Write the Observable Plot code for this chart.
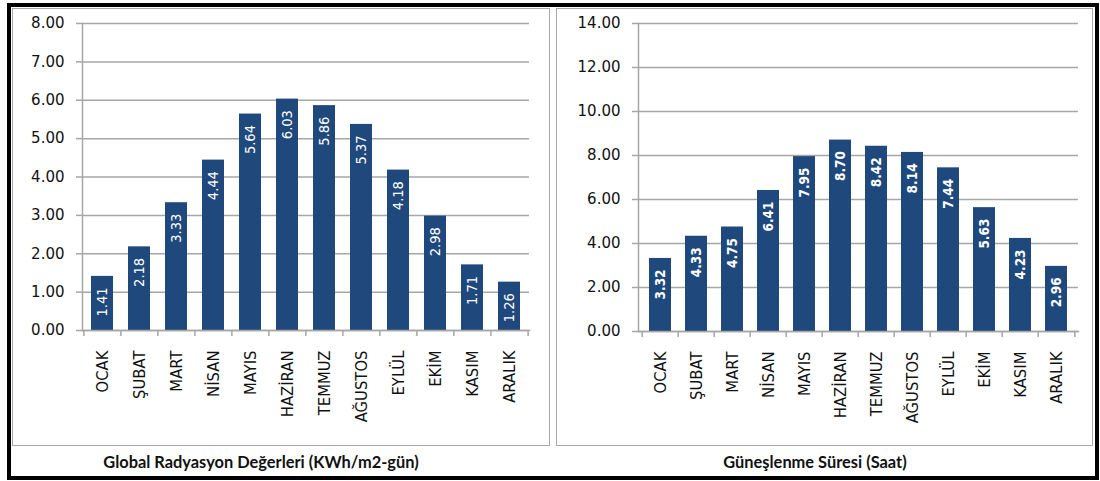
<!DOCTYPE html>
<html>
<head>
<meta charset="utf-8">
<script src="https://cdn.jsdelivr.net/npm/d3@7"></script>
<script src="https://cdn.jsdelivr.net/npm/@observablehq/plot@0.6"></script>
<style>
  html, body { margin: 0; padding: 0; background: #fff; }
  #stage { position: relative; width: 1100px; height: 481px; overflow: hidden; background: #fff; }
  .outer { position: absolute; left: 7px; top: 3px; width: 1092px; height: 477px; box-sizing: border-box; border: 4px solid #000; }
  .box { position: absolute; top: 8px; height: 438px; box-sizing: border-box; border: 1.5px solid #a8a8a8; }
  .chart { position: absolute; top: 8px; }
  .caption { position: absolute; top: 452px; transform: translateX(-50%); white-space: nowrap;
             font-family: Lato, "Open Sans", sans-serif; font-weight: 700; font-size: 16.4px; color: #111; }
</style>
</head>
<body>
<div id="stage">
  <div class="outer"></div>
  <div class="box" style="left:12px;width:538px"></div>
  <div class="box" style="left:556px;width:537px"></div>
  <div class="chart" id="left" style="left:12px"></div>
  <div class="chart" id="right" style="left:556px"></div>
  <div class="caption" style="left:261px">Global Radyasyon Değerleri (KWh/m2-gün)</div>
  <div class="caption" style="left:815px">Güneşlenme Süresi (Saat)</div>
</div>
<script>
// Months (Turkish)
const months = ["OCAK", "ŞUBAT", "MART", "NİSAN", "MAYIS", "HAZİRAN", "TEMMUZ", "AĞUSTOS", "EYLÜL", "EKİM", "KASIM", "ARALIK"];

// Monthly global radiation, kWh/m2-day
const radiation = [1.41, 2.18, 3.33, 4.44, 5.64, 6.03, 5.86, 5.37, 4.18, 2.98, 1.71, 1.26];

// Monthly sunshine duration, hours
const sunshine = [3.32, 4.33, 4.75, 6.41, 7.95, 8.70, 8.42, 8.14, 7.44, 5.63, 4.23, 2.96];

// Y-axis tick values for each panel
const radiationTicks = [0, 1, 2, 3, 4, 5, 6, 7, 8];
const sunshineTicks = [0, 2, 4, 6, 8, 10, 12, 14];

const barColor = "#1F497D";
const gridColor = "#a6a6a6";

function monthlyBars({values, ticks, width, height, marginLeft, marginRight, marginTop, marginBottom, labelFont}) {
  const data = months.map((month, i) => ({month, value: values[i]}));
  const step = (width - marginLeft - marginRight) / months.length;
  const tickStyle = {stroke: gridColor, strokeWidth: 1.5, strokeOpacity: 1};
  return Plot.plot({
    width, height, marginLeft, marginRight, marginTop, marginBottom,
    style: {fontFamily: "'DejaVu Sans', sans-serif", fontSize: "15px", color: "#111", background: "none", overflow: "visible"},
    x: {domain: months, paddingInner: 0.4, paddingOuter: 0.2, label: null},
    y: {domain: [ticks[0], ticks[ticks.length - 1]], label: null},
    marks: [
      Plot.gridY(ticks, {...tickStyle}),
      Plot.axisY(ticks, {tickSize: 6, tickPadding: 12, tickFormat: d => d.toFixed(2), ...tickStyle,
        fill: "#111", fontSize: 15, label: null}),
      // category boundary ticks below the axis
      Plot.axisX({tickSize: 6, dx: -step / 2, text: null, ...tickStyle, label: null}),
      Plot.axisX([months[months.length - 1]], {tickSize: 6, dx: step / 2, text: null, ...tickStyle, label: null}),
      Plot.axisX({tickSize: 0, tickPadding: 20, tickRotate: -90, fill: "#111",
        fontFamily: "'DejaVu Sans Condensed', 'DejaVu Sans', sans-serif", fontSize: 16.5, label: null}),
      Plot.barY(data, {x: "month", y: "value", fill: barColor}),
      Plot.text(data, {x: "month", y: "value", text: d => d.value.toFixed(2), rotate: -90,
        textAnchor: "end", lineAnchor: "middle", dy: 11, fill: "white", ...labelFont}),
      Plot.frame({anchor: "left", ...tickStyle}),
      Plot.frame({anchor: "bottom", ...tickStyle})
    ]
  });
}

document.getElementById("left").append(monthlyBars({
  values: radiation, ticks: radiationTicks,
  width: 538, height: 438, marginLeft: 70, marginRight: 21, marginTop: 15, marginBottom: 116,
  labelFont: {fontFamily: "'DejaVu Sans Condensed', 'DejaVu Sans', sans-serif", fontSize: 14.5}
}));

document.getElementById("right").append(monthlyBars({
  values: sunshine, ticks: sunshineTicks,
  width: 536, height: 438, marginLeft: 82, marginRight: 14, marginTop: 15, marginBottom: 115,
  labelFont: {fontFamily: "'DejaVu Sans Condensed', 'DejaVu Sans', sans-serif", fontSize: 13.5, fontWeight: "bold"}
}));
</script>
</body>
</html>
